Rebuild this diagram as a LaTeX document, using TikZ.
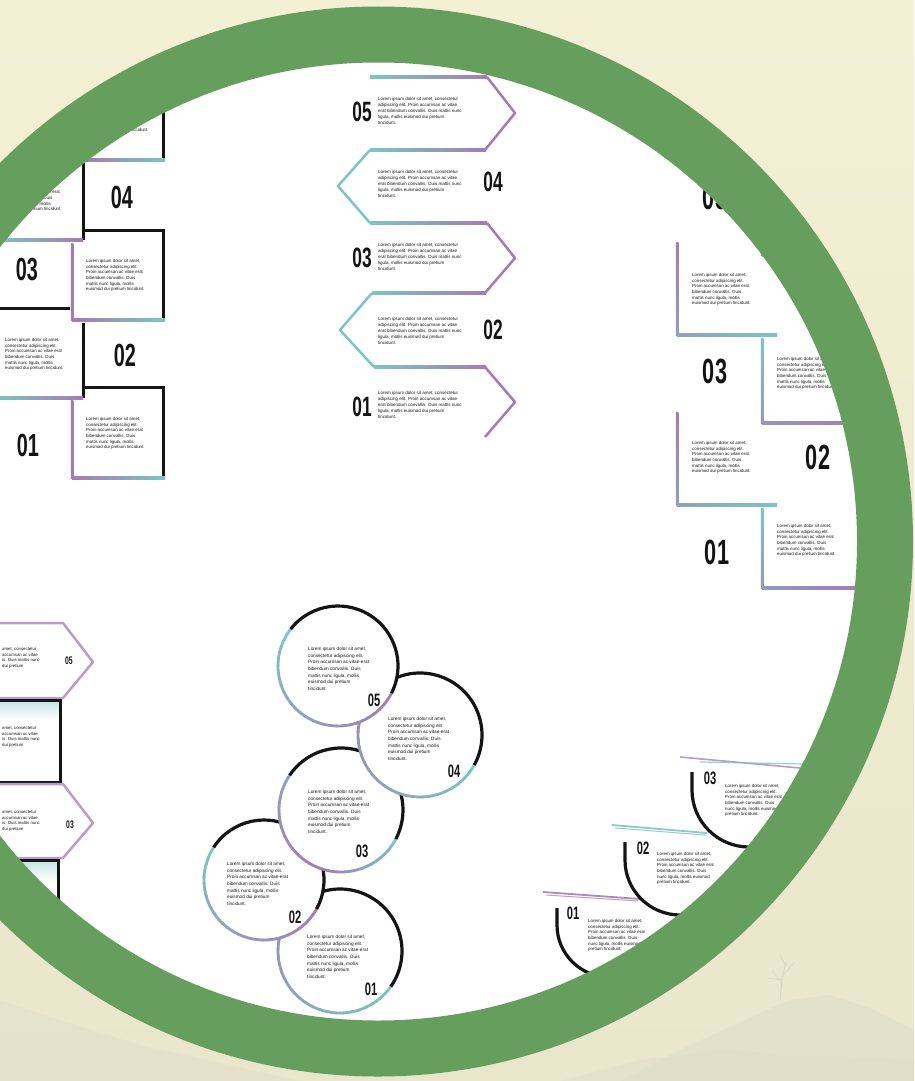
\documentclass[tikz,border=0pt]{standalone}
\usepackage{fontspec}
\setmainfont{Liberation Sans}
\newfontfamily\numf[FakeStretch=0.62]{Liberation Sans}
\definecolor{cream}{RGB}{244,240,212}
\definecolor{creamlow}{RGB}{233,230,204}
\definecolor{ringgreen}{RGB}{102,158,94}
\definecolor{tl}{RGB}{124,197,196}
\definecolor{pu}{RGB}{163,124,180}
\definecolor{ink}{RGB}{20,20,20}
\definecolor{hill}{RGB}{222,221,196}

\def\LA{Lorem ipsum dolor sit amet,\\consectetur adipiscing elit.\\Proin accumsan ac vitae erat\\bibendum convallis. Duis\\mattis nunc ligula, mollis\\euismod dui pretium tincidunt.}
\def\LB{Lorem ipsum dolor sit amet, consectetur\\adipiscing elit. Proin accumsan ac vitae\\erat bibendum convallis. Duis mattis nunc\\ligula, mollis euismod dui pretium\\tincidunt.}
\def\LC{Lorem ipsum dolor sit amet,\\consectetur adipiscing elit.\\Proin accumsan ac vitae-erat\\bibendum convallis. Duis\\mattis nunc ligula, mollis\\euismod dui pretium\\tincidunt.}
\def\LF{Lorem ipsum dolor sit amet,\\consectetur adipiscing elit.\\Proin accumsan ac vitae erat\\bibendum convallis. Duis\\nunc ligula, mollis euismod\\pretium tincidunt.}
\def\LD{amet, consectetur\\accumsan ac vitae\\is. Duis mattis nunc\\dui pretium}

\tikzset{
 lor/.style={font=\fontsize{4.4}{5.7}\selectfont, align=left, inner sep=0pt, anchor=north west, text=ink},
 lorc/.style={font=\fontsize{4.7}{6.6}\selectfont, align=left, inner sep=0pt, anchor=north west, text=ink},
 num/.style={font=\numf\bfseries\fontsize{#1}{#1}\selectfont, inner sep=0pt, text=ink},
 blk/.style={draw=ink, line width=3pt},
 gline/.style={line width=2.5pt, line join=round},
}

% horizontal gradient bar: x1 x2 y leftcolor rightcolor
\newcommand\hg[5]{\shade[left color=#4,right color=#5] (#1,#3-1.25) rectangle (#2,#3+1.25);}
% vertical gradient bar: x y1 y2 topcolor bottomcolor
\newcommand\vg[5]{\shade[top color=#4,bottom color=#5] (#1-1.25,#2) rectangle (#1+1.25,#3);}
% gradient arc: cx cy r a1 a2 c1 c2
\newcommand\garc[7]{%
 \foreach \k in {0,...,29}{%
  \pgfmathsetmacro\angA{#4+(#5-#4)*\k/30}%
  \pgfmathsetmacro\angB{#4+(#5-#4)*(\k+1.2)/30}%
  \pgfmathtruncatemacro\pc{100-\k*100/29}%
  \draw[line width=2.8pt, draw={#6!\pc!#7}] (#1,#2) ++(\angA:#3) arc[start angle=\angA, end angle=\angB, radius=#3];%
 }}
% black arc: cx cy r a1 a2
\newcommand\barc[5]{\draw[line width=3.2pt, draw=ink] (#1,#2) ++(#4:#3) arc[start angle=#4, end angle=#5, radius=#3];}

\begin{document}
\begin{tikzpicture}[x=1pt,y=-1pt]
\clip (0,0) rectangle (914,1081);
% background
\shade[top color=cream, bottom color=creamlow] (0,0) rectangle (914,1081);
% faint landscape
\fill[hill, opacity=0.5] (620,1081) -- (690,1045) -- (745,1020) -- (790,1000) -- (830,995) -- (870,1008) -- (914,1030) -- (914,1081) -- cycle;
\fill[hill, opacity=0.35] (560,1081) -- (640,1060) -- (720,1050) -- (800,1055) -- (914,1060) -- (914,1081) -- cycle;
\fill[hill, opacity=0.35] (0,1000) -- (60,1020) -- (140,1045) -- (230,1065) -- (300,1081) -- (0,1081) -- cycle;
\draw[hill!80!gray, opacity=0.45, line width=1.2pt] (780,1000) -- (782,978) -- (786,962);
\draw[hill!80!gray, opacity=0.45, line width=0.7pt] (782,985) -- (772,970) (783,975) -- (795,962) (782,980) -- (768,978) (786,966) -- (780,955);

\begin{scope}
\clip (378,541.5) circle[radius=479.5];
\fill[white] (0,0) rectangle (914,1081);

% ================= Panel A : brick cells =================
\draw[blk] (163,40) -- (163,160);
\hg{85}{165}{160}{pu}{tl}
\node[lor] (tA5) at (90,100) {\LA};
\draw[blk] (83,150) -- (83,240);
\hg{-5}{83}{240}{tl}{pu}
\node[lor] (tA4) at (3,179) {\LA};
\node[num=32] (nA4) at (122,197) {04};
\draw[blk] (83,230) -- (163,230) -- (163,320);
\vg{72}{243}{320}{pu}{pu}
\hg{72}{165}{320}{pu}{tl}
\node[lor] (tA3) at (86,259) {\LA};
\node[num=32] (nA3) at (27,270) {03};
\draw[blk] (-5,308) -- (70,308);
\draw[blk] (83,323) -- (83,398);
\hg{-5}{83}{398}{tl}{pu}
\node[lor] (tA2) at (5,338) {\LA};
\node[num=32] (nA2) at (125,355) {02};
\draw[blk] (83,387) -- (163,387) -- (163,478);
\vg{72}{400}{478}{pu}{pu}
\hg{72}{165}{478}{pu}{tl}
\node[lor] (tA1) at (86,417) {\LA};
\node[num=32] (nA1) at (28,445) {01};

% ================= Panel B : chevrons =================
\hg{370}{487}{77}{tl}{pu}
\hg{370}{486}{150}{tl}{pu}
\hg{370}{487}{223}{tl}{pu}
\hg{372}{486}{293}{tl}{pu}
\hg{374}{486}{367}{tl}{pu}
\draw[gline, pu] (487,77) -- (515,113) -- (485,150);
\draw[gline, pu] (487,223) -- (515,258) -- (485,293);
\draw[gline, pu] (485,367) -- (515,402) -- (485,437);
\draw[gline, tl] (370,150) -- (338,186) -- (370,223);
\draw[gline, tl] (372,293) -- (340,330) -- (374,367);
\node[num=28] (nB5) at (362,112) {05};
\node[lor, font=\fontsize{4.5}{6}\selectfont] (tB5) at (378,97) {\LB};
\node[num=28] (nB4) at (493,182) {04};
\node[lor, font=\fontsize{4.5}{6}\selectfont] (tB4) at (378,170) {\LB};
\node[num=28] (nB3) at (362,258) {03};
\node[lor, font=\fontsize{4.5}{6}\selectfont] (tB3) at (378,243) {\LB};
\node[num=28] (nB2) at (493,330) {02};
\node[lor, font=\fontsize{4.5}{6}\selectfont] (tB2) at (378,317) {\LB};
\node[num=28] (nB1) at (362,407) {01};
\node[lor, font=\fontsize{4.5}{6}\selectfont] (tB1) at (378,391) {\LB};

% ================= Panel C : L brackets =================
\vg{762}{165}{255}{tl}{pu!60!tl}
\hg{762}{858}{255}{pu!60!tl}{pu}
\vg{677}{242}{335}{pu}{pu!50!tl}
\hg{677}{777}{335}{pu!50!tl}{tl}
\vg{762}{338}{423}{tl}{pu!60!tl}
\hg{762}{858}{423}{pu!60!tl}{pu}
\vg{677}{412}{505}{pu}{pu!50!tl}
\hg{677}{777}{505}{pu!50!tl}{tl}
\vg{762}{508}{588}{tl}{pu!60!tl}
\hg{762}{858}{588}{pu!60!tl}{pu}
\node[num=35] (nC5) at (715,197) {05};
\node[lor] (tC4) at (692,273) {\LA};
\node[num=35] (nC3) at (715,371) {03};
\node[lor] (tC3) at (777,357) {\LA};
\node[lor] (tC2) at (692,441) {\LA};
\node[num=35] (nC2) at (818,457) {02};
\node[num=35] (nC1) at (717,552) {01};
\node[lor] (tC1) at (777,524) {\LA};

% ================= Panel D : hexagon arrows =================
\draw[line width=2.5pt, pu!75!white, line join=round] (-10,623) -- (63,623) -- (93,662) -- (63,698) -- (-10,698);
\shade[top color=tl!45!white, bottom color=white] (-10,701) rectangle (59,720);
\draw[blk] (-10,700) rectangle (60,782);
\draw[line width=2.5pt, pu!75!white, line join=round] (-10,784) -- (63,784) -- (93,823) -- (63,858) -- (-10,858);
\shade[top color=tl!45!white, bottom color=white] (-10,861) rectangle (57,880);
\draw[blk] (-10,860) rectangle (58,960);
\node[lor, font=\fontsize{4.3}{5.4}\selectfont] (tD5) at (2,648) {\LD};
\node[num=11] (nD5) at (69,661) {05};
\node[lor, font=\fontsize{4.3}{5.4}\selectfont] (tD4) at (2,727) {\LD};
\node[lor, font=\fontsize{4.3}{5.4}\selectfont] (tD3) at (2,811) {\LD};
\node[num=11] (nD3) at (70,825) {03};

% ================= Panel E : linked circles =================
% C1
\fill[white] (340,951) circle[radius=62];
\garc{340}{951}{62}{35}{254}{tl}{pu}
\barc{340}{951}{62}{254}{395}
% C2
\fill[white] (264,880) circle[radius=60];
\garc{264}{880}{60}{29}{213}{pu}{tl}
\barc{264}{880}{60}{213}{389}
% C3
\fill[white] (341,810) circle[radius=62];
\garc{341}{810}{62}{28}{110}{tl}{pu}
\garc{341}{810}{62}{110}{214}{pu}{tl!55!pu}
\barc{341}{810}{62}{214}{388}
% C4
\fill[white] (420,735) circle[radius=62];
\garc{420}{735}{62}{29}{248}{tl}{pu}
\barc{420}{735}{62}{248}{389}
% C5
\fill[white] (338,666) circle[radius=60];
\garc{338}{666}{60}{27}{218}{pu}{tl}
\barc{338}{666}{60}{218}{387}
\node[lorc] (tE5) at (308,647) {\LC};
\node[num=18] (nE5) at (374,700) {05};
\node[lorc] (tE4) at (388,717) {\LC};
\node[num=18] (nE4) at (454,771) {04};
\node[lorc] (tE3) at (308,790) {\LC};
\node[num=18] (nE3) at (362,851) {03};
\node[lorc] (tE2) at (227,862) {\LC};
\node[num=18] (nE2) at (295,917) {02};
\node[lorc] (tE1) at (307,935) {\LC};
\node[num=18] (nE1) at (371,989) {01};

% ================= Panel F : half rings =================
\draw[line width=1.6pt, pu!85!white, opacity=0.9] (680,757) -- (800,768);
\draw[line width=1.2pt, tl, opacity=0.8] (700,762) -- (805,764);
\draw[line width=1.8pt, tl, opacity=0.9] (612,825) -- (707,833);
\draw[line width=1pt, tl!70!gray, opacity=0.7] (615,828) -- (705,835);
\draw[line width=1.8pt, pu, opacity=0.9] (543,892) -- (640,899);
\draw[line width=1pt, pu!70!gray, opacity=0.7] (546,895) -- (638,901);
\draw[line width=3.2pt, draw=ink] (692,772) -- (692,790) arc[start angle=180, end angle=90, radius=57];
\draw[line width=3.2pt, draw=ink] (625,842) -- (625,860) arc[start angle=180, end angle=90, radius=55];
\draw[line width=3.2pt, draw=ink] (557,908) -- (557,925) arc[start angle=180, end angle=90, radius=52];
\node[num=18] (nF3) at (710,778) {03};
\node[lor] (tF3) at (725,784) {\LF};
\node[num=18] (nF2) at (643,848) {02};
\node[lor] (tF2) at (657,852) {\LF};
\node[num=18] (nF1) at (573,913) {01};
\node[lor] (tF1) at (588,919) {\LF};
\end{scope}

% green ring
\fill[ringgreen, even odd rule] (378,541.5) circle[radius=535] (378,541.5) circle[radius=479];
\end{tikzpicture}
\end{document}
